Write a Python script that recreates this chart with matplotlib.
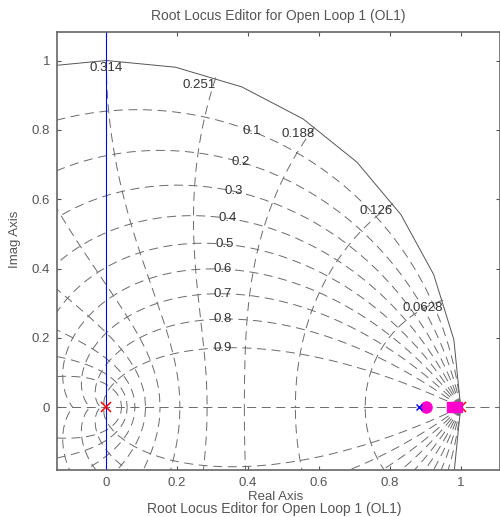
import numpy as np
import matplotlib.pyplot as plt

plt.rcParams['font.family'] = ['Liberation Sans', 'DejaVu Sans']
plt.rcParams['lines.scale_dashes'] = False

# damping ratio lines of the z-grid
damping = [0.1, 0.2, 0.3, 0.4, 0.5, 0.6, 0.7, 0.8, 0.9]
damping_labels = ['0.1', '0.2', '0.3', '0.4', '0.5', '0.6', '0.7', '0.8', '0.9']
# natural frequency curves, wn*T = k*pi/10
wn_steps = [1, 2, 3, 4, 5, 6, 7, 8, 9, 10]
wn_labels = ['0.0628', '0.126', '0.188', '0.251', '0.314']

# root locus items
ol_poles_re = [0.0, 1.0]
plant_pole_re = [0.883]
comp_re = [0.903]
cl_poles_re = [0.975, 0.99]
branch_re = [0.0, 0.0]
branch_im = [-2.0, 2.0]

txt_col = '#555555'
grid_kw = dict(color='#6a6a6a', lw=0.7, ls=(0, (6.5, 4)))

fig = plt.figure(figsize=(5, 5.17), dpi=100)
ax = fig.add_axes([0.114, 0.0909, 0.886, 0.847])

# unit circle (zeta = 0)
t = np.linspace(0, 2 * np.pi, 33)
ax.plot(np.cos(t), np.sin(t), color='#555555', lw=0.7)

# real axis
ax.axhline(0, **grid_kw)

# constant damping curves
theta = np.linspace(0, np.pi, 300)
for z in damping:
    r = np.exp(-z / np.sqrt(1 - z * z) * theta)
    ax.plot(r * np.cos(theta), r * np.sin(theta), **grid_kw)
    ax.plot(r * np.cos(theta), -r * np.sin(theta), **grid_kw)

# constant natural frequency curves
zz = np.linspace(0, 1, 150)
for k in wn_steps:
    w = k * np.pi / 10
    r = np.exp(-zz * w)
    a = w * np.sqrt(1 - zz ** 2)
    ax.plot(r * np.cos(a), r * np.sin(a), **grid_kw)
    ax.plot(r * np.cos(a), -r * np.sin(a), **grid_kw)

# damping labels along wn*T = 0.35*pi
w_lab = 0.35 * np.pi
for z, lab in zip(damping, damping_labels):
    r = np.exp(-z * w_lab)
    a = w_lab * np.sqrt(1 - z * z)
    ax.text(r * np.cos(a), r * np.sin(a), lab, ha='center', va='center',
            fontsize=9.5, color='#333333')

# frequency labels on the unit circle
for k, lab in zip(wn_steps, wn_labels):
    a = k * np.pi / 10
    ha = 'center' if abs(np.cos(a)) < 1e-6 else 'right'
    ax.text(np.cos(a), np.sin(a) - 0.005, lab, ha=ha, va='top', fontsize=9.5,
            color='#333333')

# locus branch
ax.plot(branch_re, branch_im, color='#0000ff', lw=0.8)

# poles / zeros
ax.plot(ol_poles_re, [0] * len(ol_poles_re), 'x', color='red', ms=7, mew=1.1)
ax.plot(cl_poles_re, [0] * len(cl_poles_re), 's', color='#ff00cc', ms=7,
        mec='#ff00cc')
ax.plot(comp_re, [0], 'o', color='#ff00cc', ms=8, mec='#ff00cc')
ax.plot(plant_pole_re, [0], 'x', color='#0000ff', ms=4, mew=1)

ax.set_xlim(-0.139, 1.111)
ax.set_ylim(-0.181, 1.082)
ax.set_xticks([0, 0.2, 0.4, 0.6, 0.8, 1])
ax.set_xticklabels(['0', '0.2', '0.4', '0.6', '0.8', '1'])
ax.set_yticks([0, 0.2, 0.4, 0.6, 0.8, 1])
ax.set_yticklabels(['0', '0.2', '0.4', '0.6', '0.8', '1'])
ax.tick_params(direction='in', length=3, width=0.8, top=True, right=True,
               labelsize=9.5, colors=txt_col, pad=5)
for s in ax.spines.values():
    s.set_color('#666666')
    s.set_linewidth(1.2)

fig.text(0.556, 1 - 16 / 517, 'Root Locus Editor for Open Loop 1 (OL1)',
         ha='center', va='center', fontsize=10, color=txt_col)
fig.text(0.552, 1 - 497 / 517, 'Real Axis', ha='center', va='center',
         fontsize=9.5, color=txt_col)
fig.text(0.548, 1 - 509 / 517, 'Root Locus Editor for Open Loop 1 (OL1)',
         ha='center', va='center', fontsize=10, color=txt_col)
fig.text(0.03, 1 - 239 / 517, 'Imag Axis', ha='center', va='center',
         rotation=90, fontsize=9.5, color=txt_col)

fig.savefig('out.png', dpi=100)
